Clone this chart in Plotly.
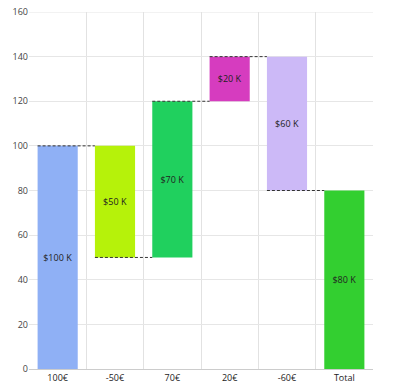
import plotly.graph_objects as go

categories = ["100€", "-50€", "70€", "20€", "-60€", "Total"]
changes = [100, -50, 70, 20, -60]
labels = ["$100 K", "$50 K", "$70 K", "$20 K", "$60 K", "$80 K"]
colors = ["#8fb0f5", "#b6f20a", "#20d05e", "#d63cbf", "#ccb9f7", "#33cf30"]
y_ticks = [0, 20, 40, 60, 80, 100, 120, 140, 160]

# compute bases and heights
bases, heights, ends = [], [], []
running = 0
for c in changes:
    start = running
    running += c
    bases.append(min(start, running))
    heights.append(abs(c))
    ends.append(running)
bases.append(0)
heights.append(running)
ends.append(running)

BAR_W = 0.7
fig = go.Figure()
fig.add_trace(go.Bar(
    x=categories, y=heights, base=bases, width=BAR_W,
    marker=dict(color=colors, line=dict(width=0)),
    text=labels, textposition="inside", insidetextanchor="middle",
    textangle=0,
    textfont=dict(size=9, color="#222222", family="Open Sans"),
    hoverinfo="skip",
))

shapes = []
# top gridline at the last y tick
shapes.append(dict(
    type="line", xref="paper", yref="y", x0=0, x1=1,
    y0=y_ticks[-1], y1=y_ticks[-1],
    line=dict(color="#e6e6e6", width=1), layer="below",
))
for i in range(len(categories) - 1):
    shapes.append(dict(
        type="line", xref="x", yref="y",
        x0=i - BAR_W / 2, x1=i + 1 - BAR_W / 2,
        y0=ends[i], y1=ends[i],
        line=dict(color="#333333", width=1, dash="3px,2px"),
        layer="above",
    ))

fig.update_layout(
    width=396, height=384,
    margin=dict(l=29, r=23, t=12, b=15),
    plot_bgcolor="white", paper_bgcolor="white",
    showlegend=False,
    shapes=shapes,
    font=dict(family="Open Sans", size=9, color="#333333"),
    xaxis=dict(
        type="category", tickson="boundaries", showgrid=True,
        gridcolor="#e2e2e2", gridwidth=1, ticks="", ticklen=0,
        showline=True, linecolor="#cccccc", linewidth=1,
        tickfont=dict(size=9, color="#222222"), zeroline=False,
        range=[-0.5, len(categories) - 0.5], automargin=False,
    ),
    yaxis=dict(
        range=[0, 160], tickvals=y_ticks, showgrid=True,
        gridcolor="#e6e6e6", gridwidth=1, zeroline=False,
        tickfont=dict(size=9, color="#444444"), ticks="",
        showline=False, automargin=False, ticklabeloverflow="allow",
    ),
)

fig.write_html(
    "out.html",
    config={"displayModeBar": False},
    post_script="document.body.style.margin='0';document.body.style.padding='0';",
)
